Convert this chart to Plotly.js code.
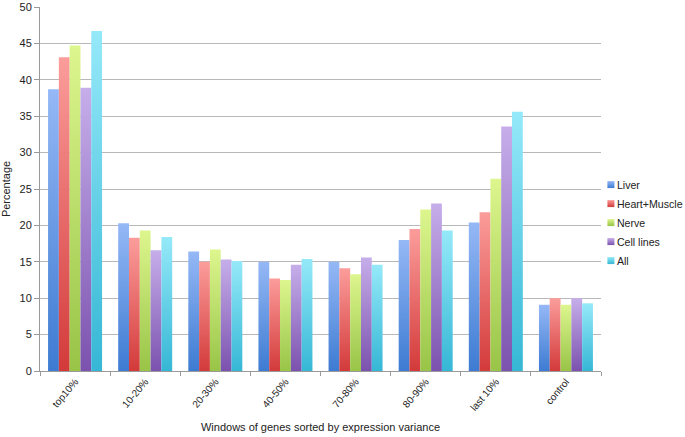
<!DOCTYPE html>
<html>
<head>
<meta charset="utf-8">
<script src="https://cdn.plot.ly/plotly-3.0.1.min.js"></script>
<style>html,body{margin:0;padding:0;background:#fff;}#chart{width:685px;height:437px;}</style>
</head>
<body>
<div id="chart"></div>
<script>
var categories = ["top10%", "10-20%", "20-30%", "40-50%", "70-80%", "80-90%", "last 10%", "control"];
var liver = [38.7, 20.3, 16.4, 15.0, 15.0, 18.0, 20.4, 9.1];
var heartMuscle = [43.1, 18.3, 15.0, 12.7, 14.1, 19.5, 21.8, 10.0];
var nerve = [44.7, 19.3, 16.7, 12.5, 13.3, 22.2, 26.4, 9.1];
var cellLines = [38.9, 16.6, 15.3, 14.6, 15.6, 23.0, 33.6, 10.0];
var all = [46.7, 18.4, 15.1, 15.4, 14.6, 19.3, 35.6, 9.3];
var seriesNames = ["Liver", "Heart+Muscle", "Nerve", "Cell lines", "All"];

var seriesData = [liver, heartMuscle, nerve, cellLines, all];
var midColors = ["#6a9be6", "#ec6c6c", "#bde06a", "#a484d2", "#62d0ea"];
var topColors = ["#95b8f6", "#fb9d9b", "#ddf68e", "#c6aeea", "#95e9f9"];
var botColors = ["#3d7bd2", "#d33a3a", "#98c447", "#7b52ae", "#36b7d5"];

var traces = seriesData.map(function (d, i) {
  return {
    type: "bar",
    name: seriesNames[i],
    x: categories,
    y: d,
    marker: {color: midColors[i], line: {width: 0}},
    hoverinfo: "x+y+name"
  };
});

var layout = {
  width: 685, height: 437,
  margin: {l: 40, r: 84, t: 7, b: 66, autoexpand: false},
  paper_bgcolor: "#ffffff", plot_bgcolor: "#ffffff",
  font: {family: "Liberation Sans, Arial, sans-serif", size: 11, color: "#222"},
  barmode: "group", bargap: 0.23, bargroupgap: 0,
  showlegend: true,
  legend: {x: 0.982, xanchor: "left", y: 0.552, yanchor: "top",
           font: {size: 10.6, color: "#222"}, tracegroupgap: 0, itemwidth: 30,
           bgcolor: "rgba(0,0,0,0)"},
  xaxis: {
    type: "category",
    tickangle: -50,
    ticks: "outside", ticklen: 4, tickcolor: "#9a9a9a", tickson: "boundaries",
    showline: true, linecolor: "#9a9a9a", linewidth: 1,
    showgrid: false,
    tickfont: {size: 10, color: "#222"},
    title: {text: "Windows of genes sorted by expression variance", font: {size: 11, color: "#222"}, standoff: 11}
  },
  yaxis: {
    range: [0, 50], dtick: 5,
    ticks: "outside", ticklen: 5, tickcolor: "#9a9a9a",
    showline: true, linecolor: "#9a9a9a", linewidth: 1,
    showgrid: true, gridcolor: "#b8b8b8", gridwidth: 1,
    zeroline: false,
    tickfont: {size: 11, color: "#222"},
    title: {text: "Percentage", font: {size: 11, color: "#222"}, standoff: 8}
  }
};

Plotly.newPlot("chart", traces, layout, {displayModeBar: false, staticPlot: true}).then(function (gd) {
  var svg = gd.querySelector("svg.main-svg");
  var ns = "http://www.w3.org/2000/svg";
  var defs = document.createElementNS(ns, "defs");
  for (var i = 0; i < seriesNames.length; i++) {
    var g = document.createElementNS(ns, "linearGradient");
    g.setAttribute("id", "barGrad" + i);
    g.setAttribute("x1", "0"); g.setAttribute("y1", "0");
    g.setAttribute("x2", "0"); g.setAttribute("y2", "1");
    var s1 = document.createElementNS(ns, "stop");
    s1.setAttribute("offset", "0"); s1.setAttribute("stop-color", topColors[i]);
    var s2 = document.createElementNS(ns, "stop");
    s2.setAttribute("offset", "1"); s2.setAttribute("stop-color", botColors[i]);
    g.appendChild(s1); g.appendChild(s2); defs.appendChild(g);
  }
  svg.insertBefore(defs, svg.firstChild);
  var barTraces = gd.querySelectorAll(".barlayer .trace.bars");
  barTraces.forEach(function (t, i) {
    t.querySelectorAll("path").forEach(function (p) { p.style.fill = "url(#barGrad" + i + ")"; });
  });
  var legendTraces = gd.querySelectorAll(".legend .traces");
  legendTraces.forEach(function (t, i) {
    t.querySelectorAll(".legendpoints path").forEach(function (p) {
      p.setAttribute("d", "M3.5,3.5H-3.5V-3.5H3.5Z");
      p.style.fill = "url(#barGrad" + i + ")";
    });
    var txt = t.querySelector("text.legendtext");
    if (txt) { txt.setAttribute("x", "26"); }
  });
});
</script>
</body>
</html>
